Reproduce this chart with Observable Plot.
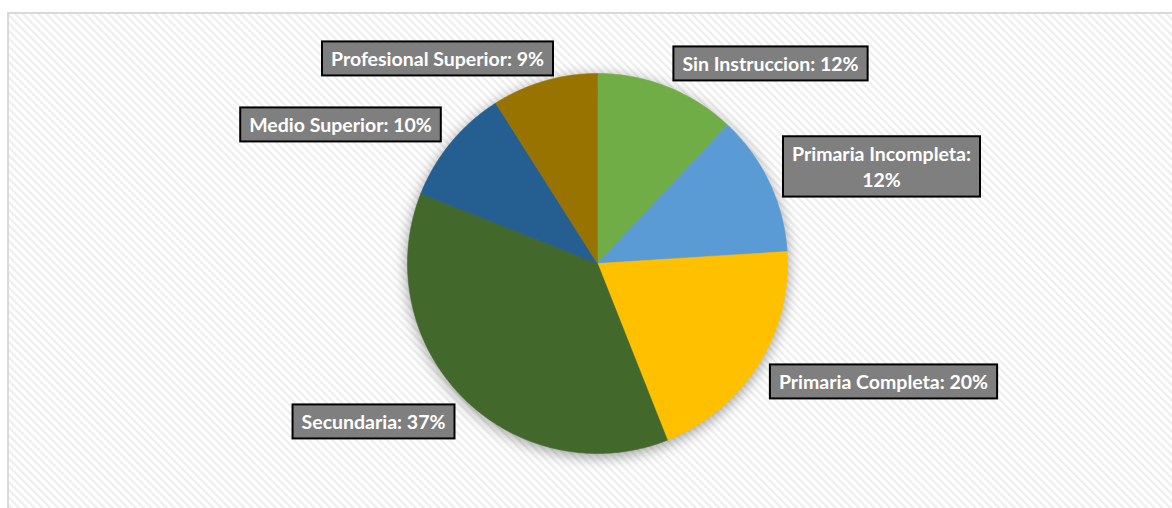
<!DOCTYPE html>
<html><head><meta charset="utf-8">
<script src="https://cdn.jsdelivr.net/npm/d3@7"></script>
<script src="https://cdn.jsdelivr.net/npm/@observablehq/plot@0.6"></script>
<style>
html,body{margin:0;padding:0;width:1172px;height:508px;overflow:hidden;background:#fff;}
#frame{position:absolute;left:7px;top:12px;width:1180px;height:520px;border:2px solid #d9d9d9;
background:repeating-linear-gradient(45deg,#ffffff 0px,#ffffff 2px,#eeeeee 3px,#eeeeee 4px,#ffffff 5.5px);}
#chart{position:absolute;left:0;top:0;}
</style></head>
<body><div id="frame"></div><div id="chart"></div>
<script>
const categories = ["Sin Instruccion","Primaria Incompleta","Primaria Completa","Secundaria","Medio Superior","Profesional Superior"];
const values = [12,12,20,37,10,9];
const labels = ["Sin Instruccion: 12%","Primaria Incompleta:\n12%","Primaria Completa: 20%","Secundaria: 37%","Medio Superior: 10%","Profesional Superior: 9%"];
const colors = ["#70AD47","#5B9BD5","#FFC000","#43682B","#255E91","#997300"];
// layout: label box centres (page px)
const labelPos = [[770,62],[881,165],[883,380],[373,420],[340,123],[437,57]];
const cx = 597, cy = 263, R = 190;

const arcs = d3.pie().sort(null).value(d => d)(values);
const pts = [];
arcs.forEach((a, i) => {
  const cat = categories[i];
  pts.push({cat, x: cx, y: cy});
  const n = Math.max(2, Math.ceil((a.endAngle - a.startAngle) / 0.01));
  for (let k = 0; k <= n; k++) {
    const t = a.startAngle + (a.endAngle - a.startAngle) * k / n;
    pts.push({cat, x: cx + R * Math.sin(t), y: cy - R * Math.cos(t)});
  }
  pts.push({cat, x: cx, y: cy});
});
const lab = labels.map((l, i) => ({label: l, x: labelPos[i][0], y: labelPos[i][1]}));

const plot = Plot.plot({
  width: 1172, height: 508,
  margin: 0,
  style: {background: "transparent", overflow: "visible"},
  x: {domain: [0, 1172], range: [0, 1172], axis: null},
  y: {domain: [0, 508], range: [0, 508], axis: null},
  color: {domain: categories, range: colors},
  marks: [
    Plot.line(pts, {x: "x", y: "y", z: "cat", fill: "cat", stroke: "cat", strokeWidth: 0.6, curve: "linear"}),
    Plot.text(lab, {x: "x", y: "y", text: "label", fill: "white", fontSize: 19.5, fontWeight: "bold",
      fontFamily: "Lato", lineHeight: 1.35, textAnchor: "middle"})
  ]
});
document.getElementById("chart").appendChild(plot);

// shadow on pie
const lineG = plot.querySelector('g[aria-label="line"]');
if (lineG) lineG.style.filter = "drop-shadow(0px 3px 7px rgba(0,0,0,0.38))";
// label boxes
const textG = plot.querySelector('g[aria-label="text"]');
if (textG) {
  textG.querySelectorAll("text").forEach(t => {
    const b = t.getBBox();
    const r = document.createElementNS("http://www.w3.org/2000/svg", "rect");
    const px = 9, py = 5.5;
    r.setAttribute("x", b.x - px);
    r.setAttribute("y", b.y - py);
    r.setAttribute("width", b.width + 2 * px);
    r.setAttribute("height", b.height + 2 * py);
    r.setAttribute("fill", "#7f7f7f");
    r.setAttribute("stroke", "#000");
    r.setAttribute("stroke-width", 2);
    const tr = t.getAttribute("transform");
    if (tr) r.setAttribute("transform", tr);
    textG.insertBefore(r, t);
  });
}
</script></body></html>
